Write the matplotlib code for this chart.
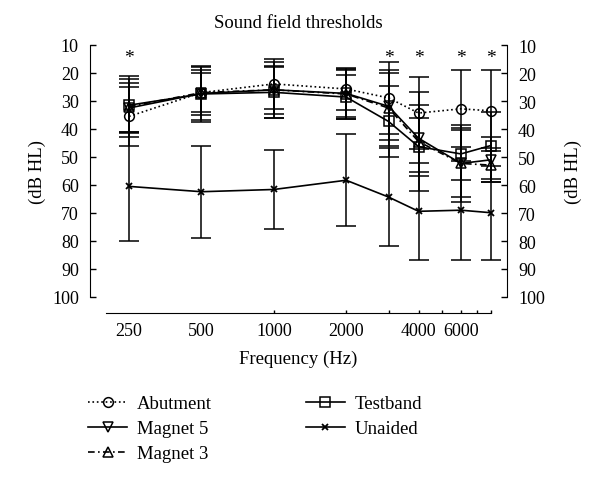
import numpy as np
import matplotlib
matplotlib.use('Agg')
import matplotlib.pyplot as plt
from matplotlib.ticker import FixedLocator, NullLocator, NullFormatter

freqs = [250, 500, 1000, 2000, 3000, 4000, 6000, 8000]
tick_labels = [250, 500, 1000, 2000, 4000, 6000]
star_freqs = [250, 3000, 4000, 6000, 8000]

abutment = [35.5, 27.0, 23.9, 25.7, 28.9, 34.3, 32.8, 33.5]
abutment_sd = [10.4, 8.1, 9.0, 7.5, 13.0, 12.8, 13.7, 14.4]
magnet5 = [32.5, 27.3, 26.0, 27.3, 31.9, 43.3, 52.3, 51.0]
magnet5_sd = [9.0, 9.5, 8.5, 8.3, 12.0, 12.0, 12.0, 8.0]
magnet3 = [32.0, 27.0, 26.0, 27.5, 32.5, 44.5, 52.3, 52.9]
magnet3_sd = [11.0, 7.0, 10.0, 8.8, 13.4, 17.7, 13.7, 6.0]
testband = [31.5, 27.5, 26.9, 28.6, 37.3, 46.3, 48.9, 45.9]
testband_sd = [9.5, 10.0, 9.0, 8.0, 12.6, 10.4, 9.2, 12.0]
unaided = [60.5, 62.4, 61.6, 58.3, 64.3, 69.4, 69.0, 69.9]
unaided_sd = [19.6, 16.5, 14.0, 16.5, 17.6, 17.3, 17.7, 16.8]

plt.rcParams['font.family'] = ['Liberation Serif', 'DejaVu Serif']
plt.rcParams['font.size'] = 13.5

fig = plt.figure(figsize=(6, 4.85), dpi=100)
ax = fig.add_axes([90 / 600, 1 - 298 / 485, 417 / 600, 252 / 485])

series = [
    ('Abutment', abutment, abutment_sd, 'o', ':'),
    ('Magnet 5', magnet5, magnet5_sd, 'v', '-'),
    ('Magnet 3', magnet3, magnet3_sd, '^', (0, (4, 2, 1, 2))),
    ('Testband', testband, testband_sd, 's', '-'),
]

handles = []
for name, vals, sd, marker, ls in series:
    ax.errorbar(freqs, vals, yerr=sd, fmt='none', ecolor='k', elinewidth=1.1, capsize=7, capthick=1.1)
    line, = ax.plot(freqs, vals, color='k', linestyle=ls, lw=1.2, marker=marker,
                    markersize=7, markerfacecolor='none', markeredgecolor='k', markeredgewidth=1.1, label=name)
    handles.append(line)

ax.errorbar(freqs, unaided, yerr=unaided_sd, fmt='none', ecolor='k', elinewidth=1.1, capsize=7, capthick=1.1)
line, = ax.plot(freqs, unaided, color='k', lw=1.2, marker='x', markersize=4.5, markeredgewidth=1.3, label='Unaided')
handles.append(line)

for f in star_freqs:
    ax.text(f, 14.5, '*', ha='center', va='center', fontsize=14)

ax.set_xscale('log')
ax.set_xlim(172, 9330)
ax.set_ylim(100, 10)
ax.set_yticks(range(10, 101, 10))

ax.xaxis.set_major_locator(FixedLocator(list(range(1000, 8001, 1000))))
ax.xaxis.set_major_formatter(NullFormatter())
ax.xaxis.set_minor_locator(NullLocator())
for f in tick_labels:
    ax.text(f, -0.1, str(f), transform=ax.get_xaxis_transform(), ha='center', va='top', fontsize=13)

ax.spines['top'].set_visible(False)
ax.spines['right'].set_visible(False)
ax.spines['bottom'].set_bounds(200, 8000)
ax.spines['bottom'].set_position(('outward', 11.5))
ax.tick_params(axis='x', direction='in', length=2.5, width=1)
ax.tick_params(axis='y', direction='in', length=4, width=1, pad=8, labelsize=13)
ax.set_xlabel('Frequency (Hz)', labelpad=23)
ax.set_ylabel('(dB HL)', labelpad=4)

ax2 = ax.twinx()
ax2.set_ylim(100, 10)
ax2.set_yticks(range(10, 101, 10))
ax2.tick_params(axis='y', direction='in', length=4, width=1, pad=8, labelsize=13)
ax2.set_ylabel('(dB HL)', rotation=90, labelpad=14)
for s in ['top', 'bottom', 'left']:
    ax2.spines[s].set_visible(False)

ax.set_title('Sound field thresholds', fontsize=13.5, pad=13)

fig.legend(handles=handles, ncols=2, loc='upper left', bbox_to_anchor=(88 / 600, 1 - 396 / 485),
           frameon=False, handlelength=2.1, handletextpad=0.5, columnspacing=5.0,
           labelspacing=0.42, borderpad=0, borderaxespad=0, fontsize=13.5)

fig.savefig('out.png', dpi=100)
